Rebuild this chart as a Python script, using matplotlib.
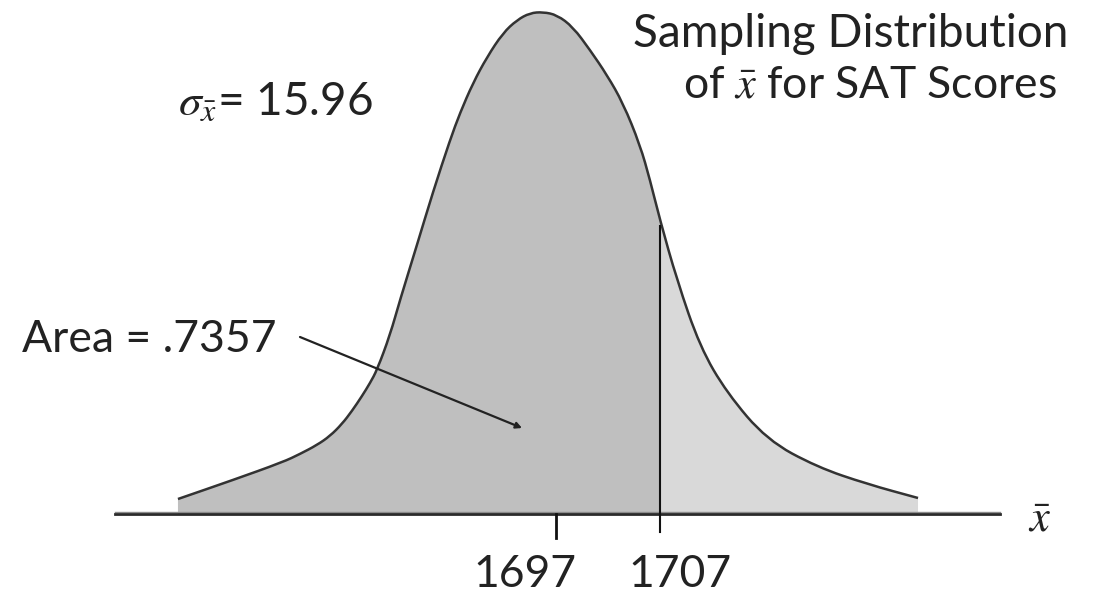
import numpy as np
import matplotlib

matplotlib.use("Agg")
import matplotlib.pyplot as plt  # noqa: E402
from matplotlib.path import Path  # noqa: E402
from matplotlib.patches import PathPatch, Rectangle  # noqa: E402

plt.rcParams["font.family"] = ["Lato", "DejaVu Sans"]
plt.rcParams["mathtext.fontset"] = "stix"

# 標本平均の分布 (手描き風の釣鐘形) — 横軸は点数、縦は相対的な高さ
MEAN = 1697
CUT = 1707
SIGMA_TEXT = "15.96"
AREA_TEXT = ".7357"

curve_x = [
    1660.65, 1665.94, 1670.75, 1672.38, 1674.02, 1675.27, 1676.42, 1677.38,
    1678.35, 1679.12, 1679.79, 1681.04, 1682.00, 1683.63, 1685.17, 1686.81,
    1687.77, 1689.02, 1690.37, 1691.90, 1693.25, 1694.50, 1695.75, 1697.10,
    1698.63, 1700.27, 1701.90, 1703.44, 1705.08, 1706.04, 1707.00, 1708.63,
    1710.85, 1713.44, 1717.29, 1722.10, 1726.90, 1731.81,
]
curve_h = [
    15, 34, 52, 60, 69, 78, 90, 103,
    118, 131, 144, 179, 214, 269, 322, 374,
    401, 431, 457, 481, 494, 501, 502, 499,
    487, 464, 439, 411, 369, 334, 294, 234,
    167, 121, 74, 47, 30, 16,
]

W, H = 1095, 593
PX_PER_UNIT = 10.4
X0_PX, BASE_PX = 556, 514  # 1697 の位置と基線の位置 (ピクセル)
INK = "#222222"


def fx(px):
    return MEAN + (px - X0_PX) / PX_PER_UNIT


def smooth_path(pts, close=False):
    """読み取った点を制御点にした2次ベジェ (中点を通る) で滑らかに結ぶ。"""
    verts = [pts[0], (pts[0] + pts[1]) / 2]
    codes = [Path.MOVETO, Path.LINETO]
    for i in range(1, len(pts) - 1):
        verts += [pts[i], (pts[i] + pts[i + 1]) / 2]
        codes += [Path.CURVE3, Path.CURVE3]
    verts.append(pts[-1])
    codes.append(Path.LINETO)
    if close:
        verts += [(pts[-1][0], 0), (pts[0][0], 0), pts[0]]
        codes += [Path.LINETO, Path.LINETO, Path.CLOSEPOLY]
    return Path(verts, codes)


fig = plt.figure(figsize=(W / 100, H / 100), dpi=100)
ax = fig.add_axes([0, 0, 1, 1])
ax.set_xlim(fx(0), fx(W))
ax.set_ylim(-(H - BASE_PX), BASE_PX)
ax.axis("off")

pts = np.column_stack([curve_x, curve_h]).astype(float)
h_cut = np.interp(CUT, curve_x, curve_h)

for x_from, x_to, col in [(fx(0), CUT, "#bfbfbf"), (CUT, fx(W), "#d9d9d9")]:
    patch = PathPatch(smooth_path(pts, close=True), facecolor=col, edgecolor="none")
    ax.add_patch(patch)
    clip = Rectangle((x_from, -10), x_to - x_from, 600, transform=ax.transData)
    patch.set_clip_path(clip)

ax.add_patch(PathPatch(smooth_path(pts), facecolor="none", edgecolor="#333333",
                       lw=1.8, capstyle="butt"))

# 横軸
ax.plot([fx(115), fx(1000)], [1.8, 1.8], color="#8c8c8c", lw=1.0)
ax.plot([fx(115), fx(1000)], [0, 0], color="#2a2a2a", lw=2.0)
ax.plot([MEAN, MEAN], [0, -24], color="#111111", lw=2.0)
ax.plot([CUT, CUT], [h_cut - 6, -18], color="#111111", lw=1.5)

ax.text(MEAN - 3.0, -(587 - BASE_PX), str(MEAN), ha="center", va="baseline",
        fontsize=32, color=INK)
ax.text(CUT + 1.9, -(587 - BASE_PX), str(CUT), ha="center", va="baseline",
        fontsize=32, color=INK)
ax.text(fx(1040), -(532 - BASE_PX), r"$\bar{x}$", ha="center", va="baseline",
        fontsize=32, color=INK)

fig.text(633 / W, 1 - 47 / H, "Sampling Distribution", ha="left", va="baseline",
         fontsize=33, color=INK)
fig.text(683 / W, 1 - 98 / H, r"of $\bar{x}$ for SAT Scores", ha="left",
         va="baseline", fontsize=32, color=INK)
fig.text(178 / W, 1 - 115 / H, r"$\sigma_{\bar{x}}$= " + SIGMA_TEXT, ha="left",
         va="baseline", fontsize=33, color=INK)
fig.text(22 / W, 1 - 352 / H, "Area = " + AREA_TEXT, ha="left", va="baseline",
         fontsize=32, color=INK)

ax.annotate("", xy=(fx(522), BASE_PX - 428), xytext=(fx(300), BASE_PX - 337),
            arrowprops=dict(arrowstyle="-|>,head_length=0.35,head_width=0.18",
                            color=INK, lw=1.6, shrinkA=0, shrinkB=0))

fig.savefig("out.png", dpi=100)
